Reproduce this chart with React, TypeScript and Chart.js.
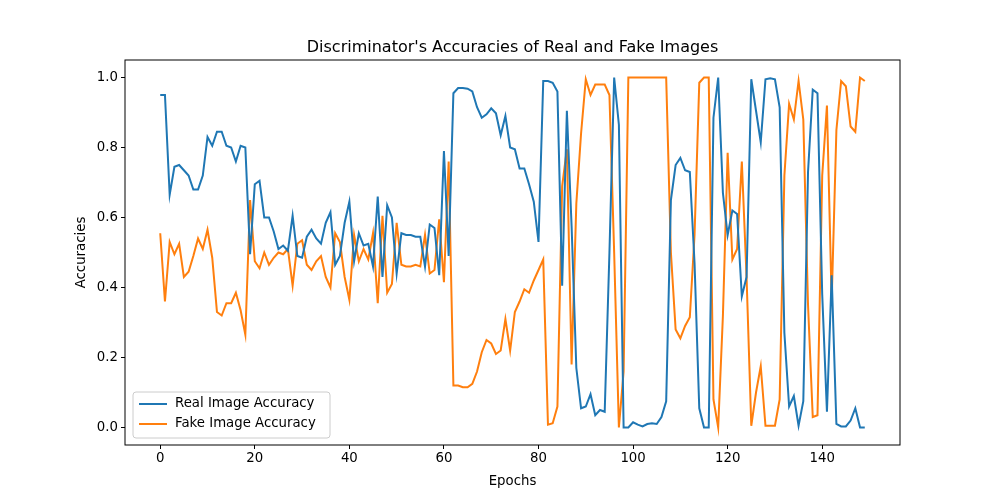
import { useEffect, useRef } from 'react';
import Chart from 'chart.js/auto';

const epochs = Array.from({ length: 150 }, (_, i) => i);

const realAcc = [
  0.95, 0.95, 0.665, 0.745, 0.75, 0.735, 0.72, 0.68, 0.68, 0.72,
  0.83, 0.805, 0.845, 0.845, 0.805, 0.8, 0.76, 0.805, 0.8, 0.495,
  0.695, 0.705, 0.6, 0.6, 0.56, 0.51, 0.52, 0.505, 0.605, 0.49,
  0.485, 0.545, 0.565, 0.54, 0.525, 0.585, 0.615, 0.465, 0.49, 0.585,
  0.645, 0.475, 0.555, 0.52, 0.525, 0.46, 0.66, 0.43, 0.635, 0.6,
  0.44, 0.555, 0.55, 0.55, 0.545, 0.545, 0.46, 0.58, 0.57, 0.435,
  0.79, 0.49, 0.955, 0.97, 0.97, 0.968, 0.96, 0.915, 0.885, 0.895,
  0.912, 0.898, 0.835, 0.89, 0.8, 0.795, 0.74, 0.74, 0.695, 0.645,
  0.53, 0.99, 0.99, 0.985, 0.96, 0.405, 0.905, 0.575, 0.17, 0.055,
  0.06, 0.095, 0.035, 0.05, 0.045, 0.5, 1.0, 0.865, 0.0, 0.0,
  0.015, 0.008, 0.003, 0.01, 0.012, 0.01, 0.03, 0.075, 0.65, 0.75,
  0.77, 0.735, 0.73, 0.47, 0.055, 0.0, 0.0, 0.885, 1.0, 0.67,
  0.55, 0.62, 0.61, 0.375, 0.43, 0.995, 0.905, 0.815, 0.995, 0.998,
  0.995, 0.915, 0.27, 0.06, 0.09, 0.005, 0.075, 0.73, 0.965, 0.955,
  0.38, 0.045, 0.435, 0.01, 0.003, 0.003, 0.02, 0.055, 0.0, 0.0
];

const fakeAcc = [
  0.555, 0.36, 0.53, 0.495, 0.525, 0.43, 0.445, 0.49, 0.54, 0.51,
  0.565, 0.485, 0.33, 0.32, 0.355, 0.355, 0.385, 0.335, 0.265, 0.65,
  0.475, 0.455, 0.5, 0.465, 0.485, 0.5, 0.495, 0.51, 0.405, 0.525,
  0.535, 0.465, 0.45, 0.475, 0.49, 0.43, 0.4, 0.555, 0.53, 0.43,
  0.365, 0.55, 0.475, 0.51, 0.48, 0.555, 0.355, 0.605, 0.385, 0.41,
  0.585, 0.465, 0.46, 0.46, 0.465, 0.46, 0.55, 0.44, 0.45, 0.595,
  0.415, 0.76, 0.12, 0.12, 0.115, 0.115, 0.125, 0.16, 0.215, 0.25,
  0.24, 0.21, 0.22, 0.31, 0.22, 0.33, 0.36, 0.395, 0.385, 0.42,
  0.45, 0.48, 0.008, 0.012, 0.06, 0.69, 0.795, 0.18, 0.64, 0.84,
  0.995, 0.95, 0.98, 0.98, 0.98, 0.95, 0.5, 0.0, 0.16, 1.0,
  1.0, 1.0, 1.0, 1.0, 1.0, 1.0, 1.0, 1.0, 0.5, 0.28,
  0.255, 0.29, 0.315, 0.55, 0.985, 1.0, 1.0, 0.08, 0.0, 0.32,
  0.785, 0.48, 0.51, 0.76, 0.43, 0.005, 0.1, 0.175, 0.005, 0.005,
  0.005, 0.08, 0.72, 0.925, 0.88, 0.99, 0.88, 0.35, 0.03, 0.035,
  0.72, 0.92, 0.36, 0.85, 0.99, 0.975, 0.86, 0.845, 1.0, 0.99
];

const xTicks = [0, 20, 40, 60, 80, 100, 120, 140];
const yTicks = [0.0, 0.2, 0.4, 0.6, 0.8, 1.0];

const BLUE = '#1f77b4';
const ORANGE = '#ff7f0e';
const FONT = '"DejaVu Sans", sans-serif';

const frame = {
  id: 'frame',
  afterDraw(chart: any) {
    const { ctx, chartArea: a } = chart;
    ctx.save();
    ctx.strokeStyle = '#000';
    ctx.lineWidth = 1;
    ctx.strokeRect(a.left, a.top, a.right - a.left, a.bottom - a.top);
    ctx.fillStyle = '#000';
    ctx.textAlign = 'center';
    ctx.textBaseline = 'alphabetic';
    ctx.font = `16px ${FONT}`;
    ctx.fillText("Discriminator's Accuracies of Real and Fake Images", (a.left + a.right) / 2, 52);
    ctx.font = `13.3px ${FONT}`;
    ctx.fillText('Epochs', (a.left + a.right) / 2, 485);
    ctx.save();
    ctx.translate(85, (a.top + a.bottom) / 2);
    ctx.rotate(-Math.PI / 2);
    ctx.fillText('Accuracies', 0, 0);
    ctx.restore();
    // legend box
    const lx = a.left + 8, ly = 392, lw = 197, lh = 46;
    ctx.fillStyle = 'rgba(255,255,255,0.8)';
    ctx.strokeStyle = '#cccccc';
    ctx.beginPath();
    ctx.roundRect(lx, ly, lw, lh, 3);
    ctx.fill();
    ctx.stroke();
    const items: [string, string][] = [['Real Image Accuracy', BLUE], ['Fake Image Accuracy', ORANGE]];
    ctx.textAlign = 'left';
    ctx.textBaseline = 'middle';
    items.forEach(([label, color], i) => {
      const y = ly + 12 + i * 20;
      ctx.strokeStyle = color;
      ctx.lineWidth = 2;
      ctx.beginPath();
      ctx.moveTo(lx + 6, y);
      ctx.lineTo(lx + 34, y);
      ctx.stroke();
      ctx.fillStyle = '#000';
      ctx.fillText(label, lx + 42, y);
    });
    ctx.restore();
  }
};

export default function App() {
  const canvasRef = useRef<HTMLCanvasElement>(null);
  const chartRef = useRef<Chart | null>(null);

  useEffect(() => {
    document.body.style.margin = '0';
    if (!canvasRef.current) return;
    if (chartRef.current) chartRef.current.destroy();

    chartRef.current = new Chart(canvasRef.current, {
      type: 'line',
      data: {
        datasets: [
          {
            label: 'Real Image Accuracy',
            data: epochs.map((e, i) => ({ x: e, y: realAcc[i] })),
            borderColor: BLUE,
            borderWidth: 2,
            pointRadius: 0,
            tension: 0
          },
          {
            label: 'Fake Image Accuracy',
            data: epochs.map((e, i) => ({ x: e, y: fakeAcc[i] })),
            borderColor: ORANGE,
            borderWidth: 2,
            pointRadius: 0,
            tension: 0
          }
        ]
      },
      options: {
        responsive: false,
        animation: false,
        layout: { padding: { top: 60, right: 100, left: 0, bottom: 0 } },
        plugins: { legend: { display: false }, tooltip: { enabled: false } },
        scales: {
          x: {
            type: 'linear',
            min: -7.45,
            max: 156.45,
            afterBuildTicks: (s: any) => { s.ticks = xTicks.map(v => ({ value: v })); },
            afterFit: (s: any) => { s.height = 55; },
            grid: { drawOnChartArea: false, tickLength: 4, color: '#000' },
            border: { display: false },
            ticks: { color: '#000', font: { family: FONT, size: 13.3 }, padding: 2, maxRotation: 0 }
          },
          y: {
            min: -0.05,
            max: 1.05,
            afterBuildTicks: (s: any) => { s.ticks = yTicks.map(v => ({ value: v })); },
            afterFit: (s: any) => { s.width = 125; },
            grid: { drawOnChartArea: false, tickLength: 4, color: '#000' },
            border: { display: false },
            ticks: {
              color: '#000',
              font: { family: FONT, size: 13.3 },
              padding: 3,
              callback: (v: any) => Number(v).toFixed(1)
            }
          }
        }
      },
      plugins: [frame]
    });

    return () => {
      if (chartRef.current) chartRef.current.destroy();
      chartRef.current = null;
    };
  }, []);

  return (
    <div style={{ width: 1000, height: 500, background: '#fff' }}>
      <canvas ref={canvasRef} width={1000} height={500} />
    </div>
  );
}
